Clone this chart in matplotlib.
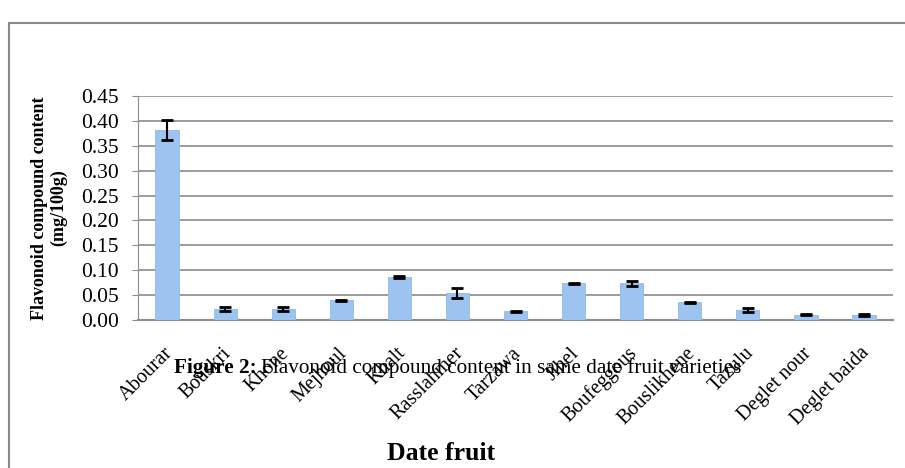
import matplotlib
matplotlib.use("Agg")
import matplotlib.pyplot as plt
from matplotlib.patches import Rectangle
from matplotlib.transforms import ScaledTranslation

varieties = ["Abourar", "Bouskri", "Khone", "Mejhoul", "Khalt", "Rasslahmer",
             "Tarzawa", "Jihel", "Boufeggous", "Bouslikhene", "Tazulu",
             "Deglet nour", "Deglet baida"]
flavonoid = [0.381, 0.023, 0.023, 0.040, 0.086, 0.055,
             0.018, 0.074, 0.074, 0.036, 0.021, 0.011, 0.011]
sd = [0.020, 0.004, 0.004, 0.001, 0.002, 0.010,
      0.001, 0.001, 0.005, 0.001, 0.004, 0.001, 0.002]
yticks = [0.00, 0.05, 0.10, 0.15, 0.20, 0.25, 0.30, 0.35, 0.40, 0.45]

plt.rcParams['font.family'] = ['Liberation Serif', 'DejaVu Serif']

W, H = 905, 468
fig = plt.figure(figsize=(W / 100, H / 100), dpi=100)
ax = fig.add_axes([138 / W, 1 - 320 / H, (893 - 138) / W, (320 - 96) / H])

# outer chart border (cut off at right and bottom)
fig.add_artist(Rectangle((9 / W, -0.2), 1.2, 1.2 - 23 / H, transform=fig.transFigure,
                         fill=False, edgecolor='#8a8a8a', linewidth=1.5))

x = list(range(len(varieties)))
ax.bar(x, flavonoid, width=0.4, color='#9dc3f0', edgecolor='#8fb9ec', linewidth=0.6,
       zorder=3)
ax.errorbar(x, flavonoid, yerr=sd, fmt='none', ecolor='black', elinewidth=1.5,
            capsize=4, capthick=2, zorder=4)

ax.set_xlim(-0.5, len(varieties) - 0.5)
ax.set_ylim(0, 0.45)
ax.set_yticks(yticks)
ax.set_yticklabels([f"{v:.2f}" for v in yticks], fontsize=15.5)
ax.yaxis.grid(True, color='#8c8c8c', linewidth=1.2, zorder=0)
ax.set_axisbelow(True)
for s in ['top', 'right']:
    ax.spines[s].set_visible(False)
ax.spines['left'].set_color('#8c8c8c')
ax.spines['bottom'].set_color('#8c8c8c')
ax.spines['bottom'].set_linewidth(1.5)
ax.tick_params(axis='y', length=4, color='#8c8c8c', pad=10)
ax.set_xticks(x)
ax.set_xticklabels(varieties, rotation=45, ha='right', va='center',
                   rotation_mode='anchor', fontsize=14.5)
ax.tick_params(axis='x', length=0, pad=22)
shift = ScaledTranslation(3 / 100, 0, fig.dpi_scale_trans)
for lab in ax.get_xticklabels():
    lab.set_transform(lab.get_transform() + shift)

fig.text(40 / W, 1 - 208 / H, "Flavonoid compound content", rotation=90,
         ha='center', va='center', fontsize=13, fontweight='bold')
fig.text(59 / W, 1 - 208 / H, "(mg/100g)", rotation=90,
         ha='center', va='center', fontsize=13, fontweight='bold')

fig.text(441 / W, 1 - 454 / H, "Date fruit", ha='center', va='center',
         fontsize=18.5, fontweight='bold')

# caption that sits over the tick labels
cap1 = fig.text(174 / W, 1 - 368 / H, "Figure 2:", ha='left', va='center',
                fontsize=15.3, fontweight='bold')
fig.canvas.draw()
bb = cap1.get_window_extent()
fig.text(bb.x1 / W + 4 / W, 1 - 368 / H,
         "Flavonoid compound content in same date fruit varieties",
         ha='left', va='center', fontsize=15.3)

fig.savefig("out.png", dpi=100)
